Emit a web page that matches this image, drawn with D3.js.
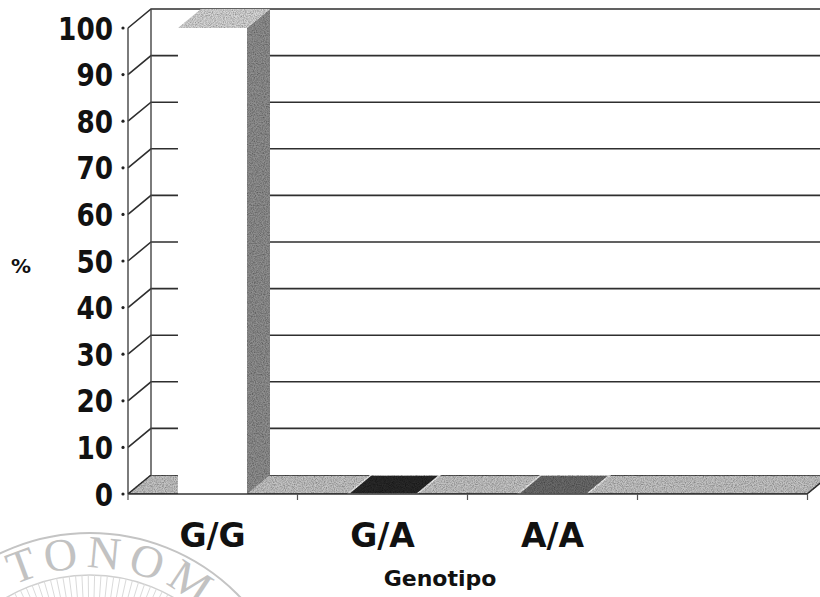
<!DOCTYPE html>
<html>
<head>
<meta charset="utf-8">
<script src="https://cdn.jsdelivr.net/npm/d3@7"></script>
<style>
  html, body { margin: 0; padding: 0; background: #fff; }
  svg { display: block; }
  .tick-label { font-family: "DejaVu Sans", Verdana, sans-serif; font-weight: bold; fill: #111; }
</style>
</head>
<body>
<div id="chart"></div>
<script>
// chart data
const categories = ["G/G", "G/A", "A/A", ""];
const values = [100, 0, 0, null];
const yTicks = [0, 10, 20, 30, 40, 50, 60, 70, 80, 90, 100];
const topColors = ["#d6d6d6", "#2b2b2b", "#6b6b6b", null];
const xTitle = "Genotipo";
const yTitle = "%";

const W = 820, H = 597;
const depth = {dx: 23, dy: -19};

const svg = d3.select("#chart").append("svg")
    .attr("width", W)
    .attr("height", H);

// grainy texture like the scanned fills
const defs = svg.append("defs");
const grain = defs.append("filter").attr("id", "grain")
    .attr("x", 0).attr("y", 0).attr("width", 1).attr("height", 1);
grain.append("feTurbulence")
    .attr("type", "fractalNoise")
    .attr("baseFrequency", 0.9)
    .attr("numOctaves", 2)
    .attr("seed", 3)
    .attr("result", "noise");
grain.append("feColorMatrix")
    .attr("in", "noise")
    .attr("type", "matrix")
    .attr("values", "0 0 0 0 0  0 0 0 0 0  0 0 0 0 0  0 0 0 -1.1 0.75")
    .attr("result", "dots");
grain.append("feComposite")
    .attr("in", "dots").attr("in2", "SourceGraphic")
    .attr("operator", "in").attr("result", "dotsIn");
grain.append("feMerge").selectAll("feMergeNode")
    .data(["SourceGraphic", "dotsIn"])
    .join("feMergeNode").attr("in", d => d);

// faint seal from the scanned page (drawn first, behind everything)
const seal = svg.append("g");
const sc = {x: 90, y: 741};
seal.append("circle").attr("cx", sc.x).attr("cy", sc.y).attr("r", 208)
    .attr("fill", "none").attr("stroke", "#c4c4c4").attr("stroke-width", 2);
seal.append("circle").attr("cx", sc.x).attr("cy", sc.y).attr("r", 166)
    .attr("fill", "none").attr("stroke", "#cfcfcf").attr("stroke-width", 1.5);
seal.append("g").selectAll("line")
    .data(d3.range(-150, -20, 2.2))
    .join("line")
    .attr("x1", a => sc.x + 140 * Math.cos(a * Math.PI / 180))
    .attr("y1", a => sc.y + 140 * Math.sin(a * Math.PI / 180))
    .attr("x2", a => sc.x + 166 * Math.cos(a * Math.PI / 180))
    .attr("y2", a => sc.y + 166 * Math.sin(a * Math.PI / 180))
    .attr("stroke", "#dadada").attr("stroke-width", 1);
const a0 = -116 * Math.PI / 180, a1 = 10 * Math.PI / 180, rr = 173;
seal.append("path").attr("id", "sealArc")
    .attr("d", `M ${sc.x + rr * Math.cos(a0)} ${sc.y + rr * Math.sin(a0)} A ${rr} ${rr} 0 0 1 ${sc.x + rr * Math.cos(a1)} ${sc.y + rr * Math.sin(a1)}`)
    .attr("fill", "none");
seal.append("text")
    .attr("font-family", "Liberation Serif, serif")
    .attr("font-size", 46)
    .attr("fill", "#c2c2c2")
    .append("textPath")
    .attr("href", "#sealArc")
    .attr("letter-spacing", 7)
    .text("TONOMA DE");

const x = d3.scaleBand()
    .domain(categories)
    .range([128, 807])
    .paddingInner(0.594)
    .paddingOuter(0.294);

const y = d3.scaleLinear()
    .domain([0, 100])
    .range([494, 28]);

const y0 = y(0);
const wallRight = 860;
const line = d3.line();

// back wall
svg.append("path")
    .attr("d", line([[128 + depth.dx, y(100) + depth.dy], [wallRight, y(100) + depth.dy], [wallRight, y0 + depth.dy], [128 + depth.dx, y0 + depth.dy], [128, y0], [128, y(100)]]) + "Z")
    .attr("fill", "#fff");

// back wall gridlines (front tick -> back wall -> right)
svg.append("g").selectAll("path")
    .data(yTicks.filter(t => t > 0))
    .join("path")
    .attr("d", t => line([[128, y(t)], [128 + depth.dx, y(t) + depth.dy], [wallRight, y(t) + depth.dy]]))
    .attr("fill", "none")
    .attr("stroke", "#2e2e2e")
    .attr("stroke-width", 1.6);

// back wall left edge and front axis
svg.append("line")
    .attr("x1", 128 + depth.dx).attr("x2", 128 + depth.dx)
    .attr("y1", y(100) + depth.dy).attr("y2", y0 + depth.dy)
    .attr("stroke", "#444").attr("stroke-width", 1.4);
svg.append("line")
    .attr("x1", 128).attr("x2", 128)
    .attr("y1", y(100)).attr("y2", y0)
    .attr("stroke", "#444").attr("stroke-width", 1.4);

// floor
svg.append("path")
    .attr("d", line([[128, y0], [807, y0], [807 + depth.dx, y0 + depth.dy], [128 + depth.dx, y0 + depth.dy]]) + "Z")
    .attr("fill", "#c4c4c4")
    .attr("filter", "url(#grain)")
    .attr("stroke", "#333")
    .attr("stroke-width", 1.4);

// bars
const bw = x.bandwidth();
categories.forEach((c, i) => {
    const v = values[i];
    if (v === null) return;
    const x0 = x(c), x1 = x(c) + bw, yv = y(v);
    const g = svg.append("g");
    if (v > 0) {
        // side face
        g.append("path")
            .attr("d", line([[x1, yv], [x1 + depth.dx, yv + depth.dy], [x1 + depth.dx, y0 + depth.dy], [x1, y0]]) + "Z")
            .attr("fill", "#8f8f8f")
            .attr("filter", "url(#grain)");
        // front face
        g.append("rect")
            .attr("x", x0).attr("y", yv)
            .attr("width", bw).attr("height", y0 - yv)
            .attr("fill", "#fff");
    }
    // top face
    g.append("path")
        .attr("d", line([[x0, yv], [x1, yv], [x1 + depth.dx, yv + depth.dy], [x0 + depth.dx, yv + depth.dy]]) + "Z")
        .attr("fill", topColors[i])
        .attr("filter", "url(#grain)")
        .attr("stroke", v > 0 ? "none" : "#eee")
        .attr("stroke-width", 1.5);
});

// floor front edge and category ticks
svg.append("line")
    .attr("x1", 128).attr("x2", 807)
    .attr("y1", y0).attr("y2", y0)
    .attr("stroke", "#333").attr("stroke-width", 1.6);
const edges = [128].concat(categories.map(c => x(c) + bw + x.step() * x.paddingInner() / 2));
svg.append("g").selectAll("line")
    .data(edges)
    .join("line")
    .attr("x1", d => d).attr("x2", d => d)
    .attr("y1", y0).attr("y2", y0 + 6)
    .attr("stroke", "#555").attr("stroke-width", 1.2);

// y tick dots and labels
svg.append("g").selectAll("circle")
    .data(yTicks)
    .join("circle")
    .attr("cx", 123).attr("cy", d => y(d))
    .attr("r", 1.6).attr("fill", "#222");
svg.append("g").selectAll("text")
    .data(yTicks)
    .join("text")
    .attr("class", "tick-label")
    .attr("x", 113)
    .attr("y", d => y(d))
    .attr("dy", "0.36em")
    .attr("text-anchor", "end")
    .attr("font-size", 32)
    .attr("textLength", d => String(d).length * 18.3)
    .attr("lengthAdjust", "spacingAndGlyphs")
    .text(d => d);

// category labels
svg.append("g").selectAll("text")
    .data(categories.filter(c => c !== ""))
    .join("text")
    .attr("class", "tick-label")
    .attr("x", c => x(c) + bw / 2)
    .attr("y", 547)
    .attr("text-anchor", "middle")
    .attr("font-size", 33)
    .text(c => c);

// axis titles
svg.append("text")
    .attr("class", "tick-label")
    .attr("x", 440).attr("y", 586)
    .attr("text-anchor", "middle")
    .attr("font-size", 22)
    .text(xTitle);
svg.append("text")
    .attr("class", "tick-label")
    .attr("x", 21).attr("y", 273)
    .attr("text-anchor", "middle")
    .attr("font-size", 20)
    .text(yTitle);
</script>
</body>
</html>
